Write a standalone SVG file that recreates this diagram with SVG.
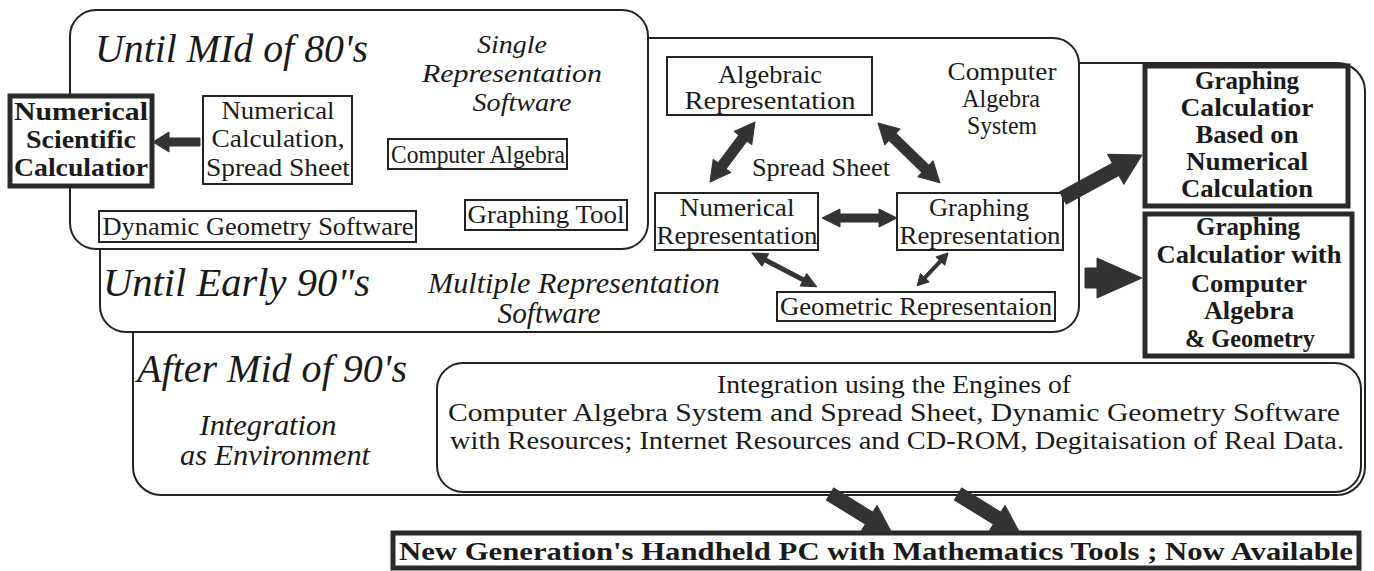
<svg xmlns="http://www.w3.org/2000/svg" width="1374" height="571" viewBox="0 0 1374 571" font-family="'Liberation Serif', 'Times New Roman', Times, serif">
<style>
text{font-family:'Liberation Serif','Times New Roman',Times,serif;fill:#1a1a1a}
.era{font-size:40px;font-style:italic}
.sub{font-size:29px;font-style:italic;text-anchor:middle}
.sub2{font-size:26px;font-style:italic;text-anchor:middle}
.n{font-size:25px;text-anchor:middle}
.b{font-size:26px;font-weight:bold;text-anchor:middle}
.zone{fill:#fff;stroke:#222;stroke-width:2}
.box{fill:#fff;stroke:#222;stroke-width:2}
.bold{fill:#fff;stroke:#2a2a2a;stroke-width:5}
.arr{fill:#333;stroke:#333;stroke-width:1;stroke-linejoin:round}
</style>
<rect width="1374" height="571" fill="#fff"/>
<g id="zone-after-mid-90s">
<rect class="zone" x="133" y="63" width="1232" height="432" rx="28"/>
<text class="era" x="137" y="382" textLength="270" lengthAdjust="spacingAndGlyphs">After Mid of 90's</text>
<text class="sub" x="268" y="435" textLength="137" lengthAdjust="spacingAndGlyphs">Integration</text>
<text class="sub" x="275" y="465" textLength="190" lengthAdjust="spacingAndGlyphs">as Environment</text>
</g>
<g id="zone-early-90s">
<rect class="zone" x="100" y="38" width="979" height="294" rx="26"/>
<text class="era" x="103" y="296" textLength="267" lengthAdjust="spacingAndGlyphs">Until Early 90"s</text>
<text class="sub" x="574" y="293" textLength="292" lengthAdjust="spacingAndGlyphs">Multiple Representation</text>
<text class="sub" x="549" y="323" textLength="103" lengthAdjust="spacingAndGlyphs">Software</text>
</g>
<g id="zone-mid-80s">
<rect class="zone" x="70" y="10" width="578" height="239" rx="26"/>
<text class="era" x="95" y="62" textLength="273" lengthAdjust="spacingAndGlyphs">Until MId of 80's</text>
<text class="sub2" x="512" y="53" textLength="70" lengthAdjust="spacingAndGlyphs">Single</text>
<text class="sub2" x="512" y="82" textLength="180" lengthAdjust="spacingAndGlyphs">Representation</text>
<text class="sub2" x="522" y="111" textLength="99" lengthAdjust="spacingAndGlyphs">Software</text>
</g>
<g id="numerical-scientific-calculator">
<rect class="bold" x="10" y="96" width="142" height="90"/>
<text class="b" x="81" y="120" textLength="134" lengthAdjust="spacingAndGlyphs">Numerical</text>
<text class="b" x="81" y="148" textLength="110" lengthAdjust="spacingAndGlyphs">Scientific</text>
<text class="b" x="81" y="176" textLength="134" lengthAdjust="spacingAndGlyphs">Calculatior</text>
</g>
<g id="numerical-calculation">
<rect class="box" x="203" y="96" width="149" height="88"/>
<text class="n" x="278" y="119" textLength="113" lengthAdjust="spacingAndGlyphs">Numerical</text>
<text class="n" x="278" y="147" textLength="133" lengthAdjust="spacingAndGlyphs">Calculation,</text>
<text class="n" x="278" y="176" textLength="144" lengthAdjust="spacingAndGlyphs">Spread Sheet</text>
</g>
<g id="computer-algebra">
<rect class="box" x="388" y="139" width="179" height="30"/>
<text class="n" x="478" y="163" textLength="174" lengthAdjust="spacingAndGlyphs">Computer Algebra</text>
</g>
<g id="dynamic-geometry">
<rect class="box" x="99" y="211" width="317" height="31"/>
<text class="n" x="258" y="235" textLength="311" lengthAdjust="spacingAndGlyphs">Dynamic Geometry Software</text>
</g>
<g id="graphing-tool">
<rect class="box" x="465" y="200" width="162" height="30"/>
<text class="n" x="546" y="223" textLength="157" lengthAdjust="spacingAndGlyphs">Graphing Tool</text>
</g>
<g id="algebraic-representation">
<rect class="box" x="667" y="57" width="205" height="58"/>
<text class="n" x="770" y="83" textLength="104" lengthAdjust="spacingAndGlyphs">Algebraic</text>
<text class="n" x="770" y="109" textLength="171" lengthAdjust="spacingAndGlyphs">Representation</text>
</g>
<g id="cas-label">
<text class="n" x="1002" y="80" textLength="109" lengthAdjust="spacingAndGlyphs">Computer</text>
<text class="n" x="1001" y="107" textLength="78" lengthAdjust="spacingAndGlyphs">Algebra</text>
<text class="n" x="1002" y="134" textLength="70" lengthAdjust="spacingAndGlyphs">System</text>
</g>
<g id="spread-sheet-label">
<text class="n" x="821" y="176" textLength="138" lengthAdjust="spacingAndGlyphs">Spread Sheet</text>
</g>
<g id="numerical-representation">
<rect class="box" x="655" y="193" width="163" height="57"/>
<text class="n" x="737" y="216" textLength="115" lengthAdjust="spacingAndGlyphs">Numerical</text>
<text class="n" x="737" y="244" textLength="161" lengthAdjust="spacingAndGlyphs">Representation</text>
</g>
<g id="graphing-representation">
<rect class="box" x="897" y="193" width="166" height="57"/>
<text class="n" x="979" y="216" textLength="100" lengthAdjust="spacingAndGlyphs">Graphing</text>
<text class="n" x="980" y="244" textLength="161" lengthAdjust="spacingAndGlyphs">Representation</text>
</g>
<g id="geometric-representation">
<rect class="box" x="777" y="292" width="278" height="29"/>
<text class="n" x="916" y="315" textLength="272" lengthAdjust="spacingAndGlyphs">Geometric Representaion</text>
</g>
<g id="graphing-calculator-numerical">
<rect class="bold" x="1145" y="66" width="203" height="140"/>
<text class="b" x="1247" y="89" textLength="104" lengthAdjust="spacingAndGlyphs">Graphing</text>
<text class="b" x="1247" y="116" textLength="133" lengthAdjust="spacingAndGlyphs">Calculatior</text>
<text class="b" x="1247" y="143" textLength="103" lengthAdjust="spacingAndGlyphs">Based on</text>
<text class="b" x="1247" y="170" textLength="122" lengthAdjust="spacingAndGlyphs">Numerical</text>
<text class="b" x="1247" y="197" textLength="132" lengthAdjust="spacingAndGlyphs">Calculation</text>
</g>
<g id="graphing-calculator-cas">
<rect class="bold" x="1145" y="214" width="207" height="142"/>
<text class="b" x="1248" y="235" textLength="104" lengthAdjust="spacingAndGlyphs">Graphing</text>
<text class="b" x="1249" y="263" textLength="185" lengthAdjust="spacingAndGlyphs">Calculatior with</text>
<text class="b" x="1249" y="292" textLength="116" lengthAdjust="spacingAndGlyphs">Computer</text>
<text class="b" x="1249" y="319" textLength="90" lengthAdjust="spacingAndGlyphs">Algebra</text>
<text class="b" x="1250" y="347" textLength="130" lengthAdjust="spacingAndGlyphs">&amp; Geometry</text>
</g>
<g id="integration-engines">
<rect class="zone" x="437" y="363" width="924" height="129" rx="26"/>
<text class="n" x="894" y="393" textLength="354" lengthAdjust="spacingAndGlyphs">Integration using the Engines of</text>
<text class="n" x="894" y="421" textLength="892" lengthAdjust="spacingAndGlyphs">Computer Algebra System and Spread Sheet,  Dynamic Geometry Software</text>
<text class="n" x="897" y="449" textLength="894" lengthAdjust="spacingAndGlyphs">with Resources; Internet Resources and CD-ROM, Degitaisation of Real Data.</text>
</g>
<g id="new-generation">
<rect class="bold" x="393" y="533" width="966" height="35"/>
<text class="b" x="876" y="560" font-size="27" textLength="954" lengthAdjust="spacingAndGlyphs">New Generation's Handheld PC with Mathematics Tools ;  Now Available</text>
</g>
<g id="connectors">
<path class="arr" transform="translate(200,142) rotate(180)" d="M0,-4 L31,-4 L31,-10 L47,0 L31,10 L31,4 L0,4 Z"/>
<path class="arr" transform="translate(755,122) rotate(126.9)" d="M0,0 L20,-11 L20,-5 L55,-5 L55,-11 L75,0 L55,11 L55,5 L20,5 L20,11 Z"/>
<path class="arr" transform="translate(878,123) rotate(44)" d="M0,0 L20,-11 L20,-5 L66,-5 L66,-11 L86,0 L66,11 L66,5 L20,5 L20,11 Z"/>
<path class="arr" transform="translate(822,218)" d="M0,0 L18,-9 L18,-4 L57,-4 L57,-9 L75,0 L57,9 L57,4 L18,4 L18,9 Z"/>
<path class="arr" transform="translate(752,253) rotate(27.6)" d="M0,0 L15,-7 L15,-2 L58,-2 L58,-7 L73,0 L58,7 L58,2 L15,2 L15,7 Z"/>
<path class="arr" transform="translate(948,253) rotate(133.2)" d="M0,0 L11,-6 L11,-1.5 L34,-1.5 L34,-6 L45,0 L34,6 L34,1.5 L11,1.5 L11,6 Z"/>
<path class="arr" transform="translate(1063,198) rotate(-28.6)" d="M0,-7 L60,-7 L60,-17 L90,0 L60,17 L60,7 L0,7 Z"/>
<path class="arr" transform="translate(1085,278)" d="M0,-10 L12,-10 L12,-20 L57,0 L12,20 L12,10 L0,10 Z"/>
<path class="arr" transform="translate(830,494) rotate(31.7)" d="M0,-7 L46,-7 L46,-15 L72,0 L46,15 L46,7 L0,7 Z"/>
<path class="arr" transform="translate(958,494) rotate(31.7)" d="M0,-7 L46,-7 L46,-15 L72,0 L46,15 L46,7 L0,7 Z"/>
</g>
</svg>
